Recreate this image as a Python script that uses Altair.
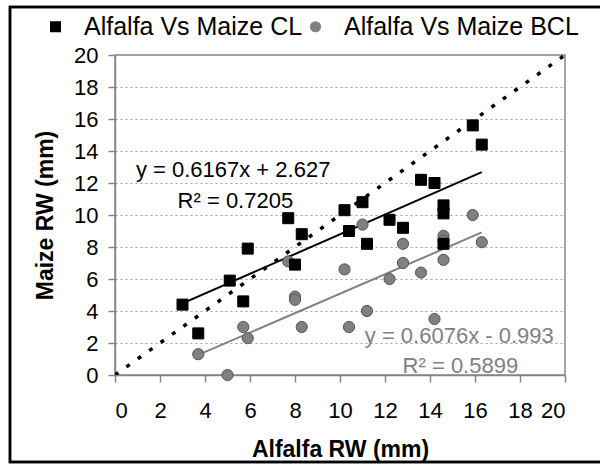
import altair as alt
import pandas as pd

series_names = ["Alfalfa Vs Maize CL", "Alfalfa Vs Maize BCL"]
series_colors = ["#000000", "#808080"]

cl_x = [3.0, 3.7, 5.1, 5.7, 5.9, 7.7, 8.0, 8.3, 10.2, 10.4, 11.0, 11.2, 12.2, 12.8, 13.6, 14.2, 14.6, 14.6, 14.6, 15.9, 16.3]
cl_y = [4.4, 2.6, 5.9, 4.6, 7.9, 9.8, 6.9, 8.8, 10.3, 9.0, 10.8, 8.2, 9.7, 9.2, 12.2, 12.0, 10.6, 10.1, 8.2, 15.6, 14.4]

bcl_x = [3.7, 5.0, 5.7, 5.9, 7.7, 8.0, 8.0, 8.3, 10.2, 10.4, 11.0, 11.2, 12.2, 12.8, 12.8, 13.6, 14.2, 14.6, 14.6, 14.6, 15.9, 16.3]
bcl_y = [1.3, 0.0, 3.0, 2.3, 7.1, 4.9, 4.7, 3.0, 6.6, 3.0, 9.4, 4.0, 6.0, 8.2, 7.0, 6.4, 3.5, 8.7, 8.4, 7.2, 10.0, 8.3]

trend_slope = [0.6167, 0.6076]
trend_intercept = [2.627, -0.993]
eq_labels = ["y = 0.6167x + 2.627", "y = 0.6076x - 0.993"]
r2_labels = ["R² = 0.7205", "R² = 0.5899"]
eq_pos_x = [5.25, 15.3]
eq_pos_y = [12.8, 2.45]
r2_pos_x = [5.35, 15.35]
r2_pos_y = [10.9, 0.55]

ticks = [0, 2, 4, 6, 8, 10, 12, 14, 16, 18, 20]
identity_x = [0, 20]

FONT = "Liberation Sans"
pts = pd.DataFrame({
    "x": cl_x + bcl_x,
    "y": cl_y + bcl_y,
    "series": [series_names[0]] * len(cl_x) + [series_names[1]] * len(bcl_x),
})

trend = pd.DataFrame({
    "series": [series_names[0], series_names[0], series_names[1], series_names[1]],
    "x": [min(cl_x), max(cl_x), min(bcl_x), max(bcl_x)],
    "slope": [trend_slope[0], trend_slope[0], trend_slope[1], trend_slope[1]],
    "intercept": [trend_intercept[0], trend_intercept[0], trend_intercept[1], trend_intercept[1]],
})

labels = pd.DataFrame({
    "x": eq_pos_x + r2_pos_x,
    "y": eq_pos_y + r2_pos_y,
    "text": eq_labels + r2_labels,
    "series": series_names + series_names,
})

ident = pd.DataFrame({"x": identity_x})

xs = alt.Scale(domain=[0, 20], nice=False)
ys = alt.Scale(domain=[0, 20], nice=False)

xaxis = alt.Axis(values=ticks, title="Alfalfa RW (mm)", grid=False, labelOverlap=False,
                 labelPadding=18, titlePadding=17)
yaxis = alt.Axis(values=ticks, title="Maize RW (mm)", grid=True, labelOverlap=False,
                 labelPadding=10, titlePadding=16,
                 gridDash=[2, 3], gridColor="#a0a0a0", gridWidth=1)
xenc = alt.X("x:Q", scale=xs, axis=xaxis)
yenc = alt.Y("y:Q", scale=ys, axis=yaxis)

identity = alt.Chart(ident).transform_calculate(y="datum.x").mark_line(
    color="black", strokeWidth=3.5, strokeDash=[4, 10], clip=True
).encode(x=xenc, y=yenc)

layers = [identity]
for name, colr in zip(series_names, series_colors):
    layers.append(
        alt.Chart(trend).transform_filter(alt.datum.series == name).transform_calculate(
            y="datum.slope * datum.x + datum.intercept"
        ).mark_line(strokeWidth=2, color=colr).encode(x=xenc, y=yenc)
    )

leg = alt.Legend(
    orient="none", legendX=-72, legendY=-41, direction="horizontal", title=None,
    labelFontSize=25, labelFont=FONT, labelColor="black", labelLimit=0, symbolSize=80,
    labelOffset=16, columnPadding=0, padding=0, symbolStrokeWidth=0,
)

points = alt.Chart(pts).mark_point(filled=True, opacity=1, strokeWidth=1).encode(
    x=xenc, y=yenc,
    color=alt.Color("series:N", scale=alt.Scale(domain=series_names, range=series_colors),
                    legend=leg, sort=series_names),
    shape=alt.Shape("series:N", scale=alt.Scale(domain=series_names, range=["square", "circle"]),
                    legend=leg, sort=series_names),
    size=alt.Size("series:N", scale=alt.Scale(domain=series_names, range=[121, 125]), legend=None),
    stroke=alt.Stroke("series:N", scale=alt.Scale(domain=series_names, range=["#000000", "#555555"]), legend=None),
    order=alt.Order("series:N", sort="ascending"),
)
layers.append(points)

for name, colr in zip(series_names, series_colors):
    layers.append(
        alt.Chart(labels).transform_filter(alt.datum.series == name).mark_text(
            fontSize=22, font=FONT, baseline="middle", align="center", color=colr
        ).encode(x=xenc, y=yenc, text="text:N")
    )

frame = alt.Chart(ident).mark_rect(filled=False, stroke="black", strokeWidth=2.5).encode(
    x=alt.value(-105), x2=alt.value(500), y=alt.value(-48), y2=alt.value(407)
)
layers.append(frame)

chart = alt.layer(*layers).properties(
    width=450, height=320,
    autosize=alt.AutoSizeParams(type="none"),
    padding={"left": 115, "top": 55, "right": 35, "bottom": 90},
).configure_view(
    stroke="#868686", strokeWidth=1.5
).configure_axis(
    domainColor="#868686", domainWidth=1.5, tickColor="#868686", tickWidth=1.5, tickSize=7,
    labelFont=FONT, labelFontSize=22, labelColor="black",
    titleFont=FONT, titleFontSize=23, titleFontWeight="bold", titleColor="black",
).configure_axisY(labelAlign="right")

chart.save("out.html", embed_options={"renderer": "svg", "actions": False})
